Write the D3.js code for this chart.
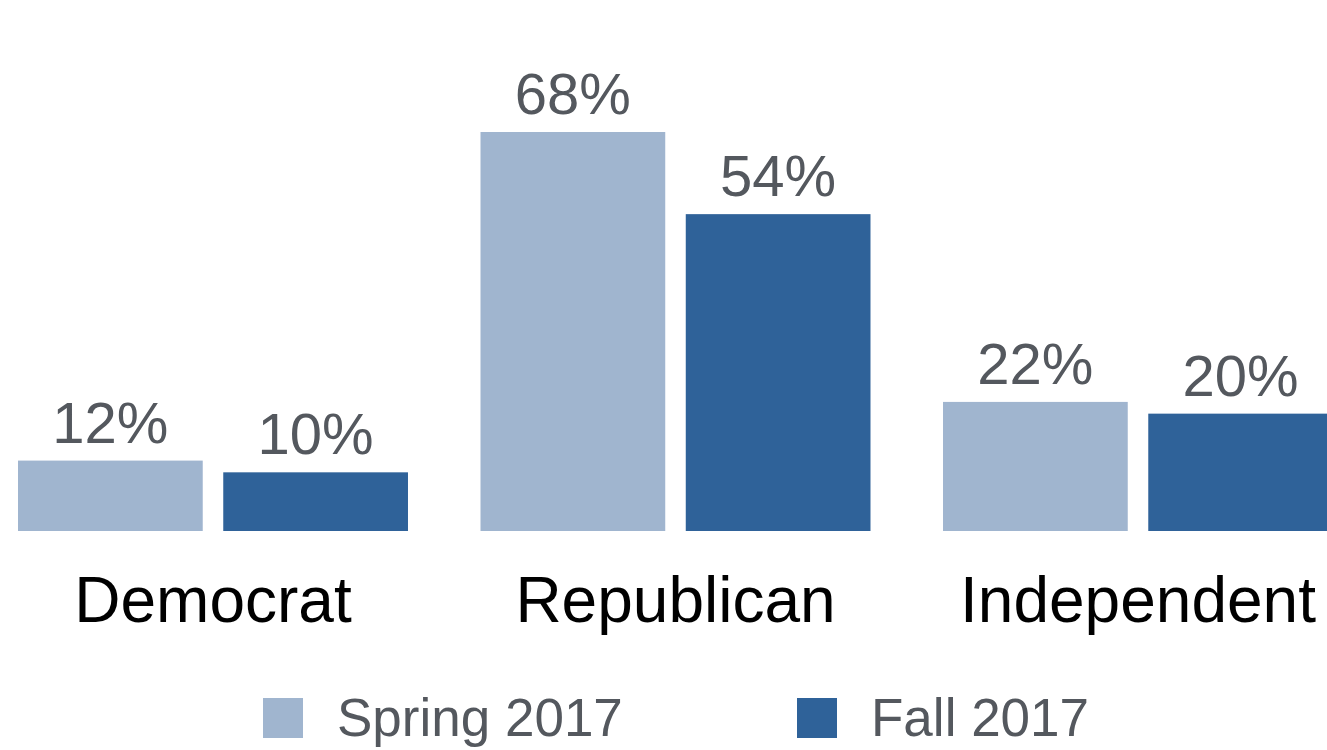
<!DOCTYPE html>
<html>
<head>
<meta charset="utf-8">
<script src="https://cdn.jsdelivr.net/npm/d3@7"></script>
<style>
  html, body { margin: 0; padding: 0; background: #fff; }
  svg { display: block; }
  text { font-family: "Liberation Sans", Arial, Helvetica, sans-serif; }
</style>
</head>
<body>
<svg id="chart" width="1327" height="750"></svg>
<script>
const categories = ["Democrat", "Republican", "Independent"];
const seriesNames = ["Spring 2017", "Fall 2017"];
const spring2017 = [12, 68, 22];
const fall2017 = [10, 54, 20];
const seriesColors = ["#a0b5cf", "#2f6299"];

const seriesValues = [spring2017, fall2017];
const data = categories.map((c, i) => ({
  category: c,
  values: seriesNames.map((s, j) => ({ series: s, value: seriesValues[j][i], idx: j }))
}));

const svg = d3.select("#chart");

const x0 = d3.scaleBand()
  .domain(categories)
  .range([18, 1333])
  .paddingInner(0.1568)
  .paddingOuter(0);

const x1 = d3.scaleBand()
  .domain(seriesNames)
  .range([0, x0.bandwidth()])
  .paddingInner(0.1)
  .paddingOuter(0);

const y = d3.scaleLinear()
  .domain([0, 68])
  .range([531, 132]);

const groups = svg.append("g")
  .selectAll("g")
  .data(data)
  .join("g")
  .attr("transform", d => `translate(${x0(d.category)},0)`);

groups.selectAll("rect")
  .data(d => d.values)
  .join("rect")
  .attr("x", d => x1(d.series))
  .attr("y", d => y(d.value))
  .attr("width", x1.bandwidth())
  .attr("height", d => y(0) - y(d.value))
  .attr("fill", d => seriesColors[d.idx]);

groups.selectAll("text.val")
  .data(d => d.values)
  .join("text")
  .attr("class", "val")
  .attr("x", d => x1(d.series) + x1.bandwidth() / 2)
  .attr("y", d => y(d.value) - 18)
  .attr("text-anchor", "middle")
  .attr("font-size", 58)
  .attr("fill", "#54585e")
  .text(d => d.value + "%");

// category axis labels
const xAxis = d3.axisBottom(x0).tickSize(0).tickPadding(0);
const axisG = svg.append("g")
  .call(xAxis);
axisG.select(".domain").remove();
axisG.selectAll(".tick text")
  .attr("y", 622)
  .attr("dy", 0)
  .attr("font-size", 64)
  .attr("font-family", "'Liberation Sans', Arial, sans-serif")
  .attr("fill", "#000");

// legend
const legendX = [263, 797];
const legend = svg.append("g")
  .selectAll("g")
  .data(seriesNames)
  .join("g")
  .attr("transform", (d, i) => `translate(${legendX[i]},698)`);

legend.append("rect")
  .attr("width", 40)
  .attr("height", 40)
  .attr("fill", (d, i) => seriesColors[i]);

legend.append("text")
  .attr("x", 74)
  .attr("y", 38)
  .attr("font-size", 53)
  .attr("fill", "#54585e")
  .text(d => d);
</script>
</body>
</html>
